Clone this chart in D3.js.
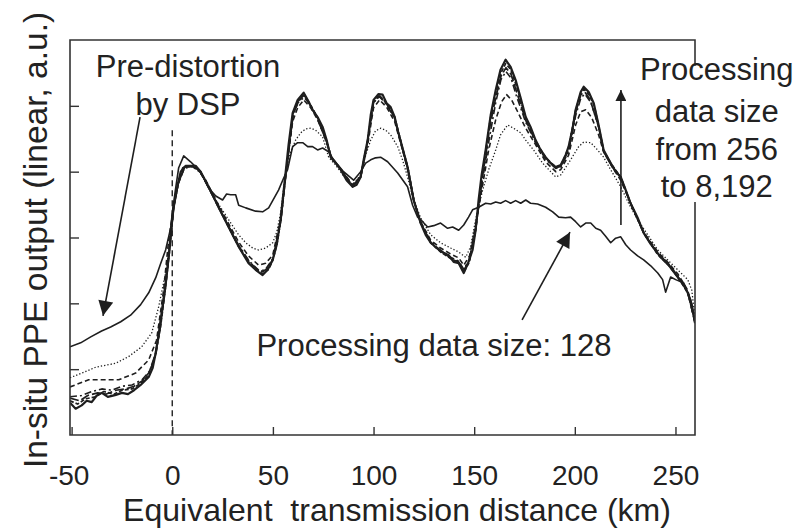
<!DOCTYPE html>
<html>
<head>
<meta charset="utf-8">
<script src="https://cdn.jsdelivr.net/npm/d3@7"></script>
<style>
body { margin: 0; background: #fff; }
text { font-family: "Liberation Sans", Arial, sans-serif; fill: #222; }
</style>
</head>
<body>
<div id="chart"></div>
<script>
// distance (km), in-situ PPE output (a.u.)
var size_128 = [[-50.8,1.34],[-45.5,1.40],[-40.5,1.49],[-35.1,1.58],[-30.6,1.64],[-25.6,1.72],[-20.7,1.82],[-15.7,1.98],[-11.7,2.16],[-8.2,2.39],[-5.8,2.60],[-3.3,2.81],[-0.8,3.14],[0.2,3.42],[1.7,3.75],[3.2,4.06],[5.7,4.24],[9.1,4.15],[14.1,4.00],[18.1,3.75],[21.6,3.63],[25,3.57],[27,3.66],[29,3.65],[31.5,3.65],[33,3.49],[36.5,3.45],[41.4,3.40],[44.9,3.39],[47.9,3.45],[52.8,3.72],[55.3,3.90],[57.3,4.03],[59.8,4.38],[62.3,4.44],[64.8,4.44],[67.3,4.38],[69.7,4.38],[72.2,4.33],[74.7,4.36],[77.7,4.30],[80.2,4.18],[85.1,4.00],[90.1,3.87],[93.6,4.00],[96.1,4.13],[98.6,4.18],[101,4.21],[103.5,4.22],[107,4.15],[112,3.98],[116.9,3.77],[119.4,3.49],[121.9,3.31],[124.4,3.24],[126.9,3.16],[129.9,3.18],[133.3,3.22],[136.8,3.14],[139.3,3.16],[142.3,3.11],[144.8,3.19],[147.2,3.31],[149.2,3.42],[152.2,3.46],[155.7,3.52],[158.2,3.51],[160.7,3.54],[163.1,3.52],[165.6,3.56],[168.1,3.52],[170.6,3.56],[173.1,3.52],[175.6,3.57],[178,3.52],[181.5,3.51],[185.5,3.46],[189,3.39],[192,3.31],[195.4,3.30],[197.9,3.31],[200.4,3.24],[202.9,3.16],[205.4,3.22],[207.9,3.22],[210.4,3.14],[212.8,3.11],[215.3,3.02],[217.8,2.92],[220.3,2.99],[222.8,3.01],[225.3,2.89],[227.7,2.81],[231.2,2.72],[234.2,2.66],[237.7,2.57],[241.2,2.46],[243.6,2.36],[245.1,2.17],[247.6,2.40],[250.1,2.36],[254.1,2.31],[257.6,2.05],[259.7,1.70]];

var size_256 = [[-50.8,0.87],[-45,0.94],[-38,1.03],[-28.1,1.09],[-21.7,1.19],[-15.2,1.34],[-10.2,1.55],[-6.8,1.94],[-3.3,2.46],[-0.8,2.96],[0.7,3.46],[2.7,3.80],[5.2,4.03],[8.1,4.09],[11.6,4.09],[16.6,3.87],[21.6,3.57],[28,3.27],[33,3.04],[36.5,2.92],[40,2.84],[42.9,2.81],[46.4,2.84],[49.9,2.92],[51.9,3.08],[53.8,3.37],[56.3,3.98],[58.8,4.30],[61.3,4.48],[63.8,4.59],[66.3,4.65],[68.8,4.66],[71.2,4.63],[74.7,4.53],[77.7,4.22],[81.2,4.10],[84.7,3.95],[89.6,3.80],[93.6,3.95],[96.1,4.25],[98.6,4.48],[101,4.62],[103.5,4.66],[106,4.63],[108.5,4.56],[112,4.38],[114.4,4.18],[116.9,3.92],[119.9,3.57],[123.4,3.30],[128.4,3.04],[133.3,2.92],[138.3,2.84],[142.3,2.78],[145.8,2.70],[148.2,2.86],[150.7,3.27],[154.2,3.72],[157.2,4.03],[160.7,4.33],[163.1,4.56],[166.6,4.71],[169.6,4.66],[173.1,4.59],[175.6,4.48],[179.5,4.33],[184,4.13],[188,4.00],[190.5,3.92],[193,3.95],[195.4,4.06],[197.9,4.18],[201.9,4.38],[204.4,4.45],[207.9,4.44],[211.3,4.33],[214.3,4.22],[217.8,4.03],[222.8,3.77],[226.7,3.52],[231.2,3.27],[236.2,3.04],[241.2,2.81],[246.1,2.66],[251.1,2.51],[256.1,2.36],[258.1,2.20],[259.7,1.79]];

var size_512 = [[-50.8,0.73],[-41.5,0.84],[-26.6,0.84],[-18.2,0.94],[-11.7,1.14],[-7.8,1.44],[-4.3,2.20],[-1.8,2.96],[0.7,3.46],[2.7,3.80],[5.2,4.06],[8.1,4.09],[11.6,4.07],[16.6,3.87],[23,3.49],[28,3.21],[33,2.93],[37.9,2.72],[42.9,2.58],[46.4,2.61],[49.9,2.73],[53.8,3.27],[56.3,3.95],[59.8,4.76],[62.3,4.97],[65.3,5.09],[68.8,4.97],[72.2,4.79],[76.7,4.45],[79.2,4.21],[84.7,4.00],[89.6,3.80],[93.6,3.93],[97.1,4.41],[100,4.97],[103,5.09],[106.5,4.98],[110.5,4.76],[114.4,4.33],[116.9,4.03],[119.9,3.57],[123.4,3.24],[128.4,2.96],[133.3,2.84],[138.3,2.75],[142.3,2.69],[144.8,2.58],[147.7,2.72],[150.7,3.19],[154.2,3.80],[157.2,4.33],[160.7,4.79],[163.6,5.06],[166.1,5.17],[168.6,5.09],[171.6,4.91],[175.6,4.66],[180.5,4.41],[185.5,4.15],[190.5,4.00],[193,4.03],[196.9,4.25],[200.4,4.71],[202.9,4.91],[205.4,4.94],[208.4,4.82],[211.8,4.56],[214.3,4.30],[218.8,4.06],[222.8,3.87],[227.7,3.52],[234.2,3.08],[241.2,2.78],[246.6,2.61],[251.1,2.45],[256.1,2.20],[259.7,1.72]];

var size_1024 = [[-50.8,0.58],[-45,0.60],[-40,0.66],[-35,0.70],[-30,0.68],[-25,0.74],[-20,0.76],[-15,0.84],[-11,0.98],[-8,1.25],[-5,1.90],[-2,2.70],[0.7,3.46],[3,3.82],[6,4.05],[10,4.08],[14,4.00],[18,3.76],[23,3.47],[28,3.17],[33,2.88],[38,2.65],[43,2.50],[46,2.50],[50,2.68],[54,3.27],[56.5,3.98],[60,4.85],[62.5,5.05],[65.5,5.13],[68.5,5.02],[72,4.82],[76.5,4.47],[79,4.21],[84,4.02],[89.6,3.78],[93.6,3.92],[97,4.45],[100,5.05],[103,5.14],[106.5,5.02],[110.5,4.80],[114.4,4.34],[117,4.05],[120,3.57],[123.4,3.23],[128.4,2.94],[133.3,2.80],[138.3,2.70],[142.3,2.64],[144.8,2.52],[147.5,2.66],[150.7,3.14],[154,3.85],[157.5,4.50],[160.7,5.05],[163.3,5.40],[165.8,5.52],[168.3,5.42],[171,5.15],[175.6,4.75],[180.5,4.44],[185.5,4.19],[190.5,4.05],[193,4.07],[196.9,4.30],[200.4,4.85],[203,5.12],[205,5.18],[208,5.05],[211.8,4.68],[214.3,4.31],[218,4.10],[222.8,3.90],[227.7,3.52],[234.2,3.07],[241.2,2.76],[246.6,2.60],[251.1,2.42],[256.1,2.18],[259.7,1.70]];

var size_2048 = [[-50.8,0.56],[-46,0.52],[-42,0.60],[-37,0.64],[-33,0.62],[-28,0.68],[-23,0.70],[-19,0.74],[-15,0.82],[-11.5,0.95],[-8.5,1.22],[-6,1.62],[-3.5,2.22],[-1.5,2.76],[0.7,3.46],[3,3.82],[6,4.06],[10,4.08],[14,3.99],[18,3.76],[23,3.46],[28,3.16],[33,2.87],[38,2.64],[42,2.52],[45,2.48],[48,2.55],[50,2.68],[54,3.27],[56.5,3.97],[60,4.86],[62.5,5.06],[65.3,5.16],[68,5.04],[72,4.82],[76.5,4.47],[79,4.22],[84,4.02],[89.6,3.78],[93.6,3.92],[97,4.46],[100,5.05],[102.8,5.15],[106.5,5.03],[110.5,4.82],[114.4,4.35],[117,4.06],[120,3.57],[123.4,3.22],[128.4,2.93],[133.3,2.79],[138.3,2.69],[142.3,2.63],[144.8,2.50],[147.5,2.64],[150.7,3.12],[154,3.90],[158,4.72],[160.7,5.12],[163.3,5.45],[165.8,5.58],[168.3,5.48],[171,5.22],[175.6,4.78],[180.5,4.46],[185.5,4.20],[190.5,4.06],[193,4.08],[196.9,4.33],[200.4,4.90],[203,5.17],[205,5.21],[207.5,5.10],[211.8,4.69],[214.3,4.31],[218,4.11],[222.8,3.91],[227.7,3.52],[234.2,3.07],[241.2,2.75],[246.6,2.59],[251.1,2.41],[256.1,2.17],[259.7,1.71]];

var size_4096 = [[-50.8,0.52],[-47,0.47],[-43,0.55],[-38,0.58],[-34,0.66],[-29,0.62],[-25,0.68],[-20,0.70],[-15,0.80],[-11.5,0.93],[-8.5,1.20],[-6,1.60],[-3.5,2.20],[-1.5,2.75],[0.7,3.46],[3,3.82],[6,4.07],[11,4.09],[14,4.00],[18,3.77],[23,3.46],[28,3.16],[33,2.86],[38,2.62],[42,2.50],[45,2.45],[48,2.52],[50,2.66],[52,2.90],[54,3.27],[56.5,3.98],[60,4.88],[62.5,5.08],[65.3,5.18],[68,5.05],[72,4.83],[76.5,4.48],[79,4.22],[84,4.03],[89.6,3.77],[93.6,3.92],[97,4.47],[100,5.07],[102.5,5.17],[106.5,5.04],[110.5,4.83],[114.4,4.36],[117,4.07],[120,3.57],[123.4,3.22],[128.4,2.92],[133.3,2.78],[138.3,2.68],[142.3,2.62],[144.8,2.47],[147.5,2.62],[150.7,3.11],[154,3.93],[158,4.80],[160.7,5.20],[163.3,5.50],[165.6,5.64],[168.2,5.55],[171,5.30],[175.6,4.82],[180.5,4.47],[185.5,4.21],[190.5,4.07],[193,4.09],[196.9,4.36],[200.4,4.93],[203,5.20],[204.6,5.25],[207,5.17],[209.5,5.02],[211.8,4.70],[214.3,4.32],[218,4.12],[222.8,3.92],[227.7,3.52],[234.2,3.07],[241.2,2.74],[246.6,2.58],[251.1,2.40],[256.1,2.16],[259.7,1.72]];

var size_8192 = [[-50.8,0.49],[-48,0.40],[-45,0.45],[-42.5,0.52],[-40,0.50],[-37.5,0.60],[-35,0.64],[-32,0.58],[-28,0.61],[-25,0.64],[-22,0.62],[-19,0.68],[-15.7,0.76],[-11.7,0.88],[-9.7,1.02],[-8.2,1.25],[-6.8,1.52],[-5.3,1.85],[-3.3,2.28],[-1.8,2.70],[-0.3,3.19],[0.7,3.46],[2.7,3.80],[4.2,4.00],[6.7,4.09],[9.1,4.09],[11.6,4.09],[14.1,4.00],[18.1,3.77],[23,3.46],[28,3.16],[33,2.86],[37.9,2.61],[41.4,2.51],[44.9,2.43],[47.4,2.51],[49.9,2.66],[51.9,2.89],[53.8,3.27],[56.3,3.98],[57.8,4.41],[59.8,4.89],[62.3,5.09],[65.3,5.20],[67.8,5.06],[69.7,4.94],[72.2,4.83],[74.7,4.68],[76.7,4.48],[78.7,4.22],[81.2,4.13],[83.7,4.03],[86.6,3.87],[89.6,3.77],[91.6,3.80],[93.6,3.92],[95.1,4.18],[97.1,4.48],[98.6,4.86],[100,5.09],[102.5,5.18],[104.5,5.17],[106.5,5.04],[108.5,4.98],[110.5,4.83],[112,4.63],[114.4,4.36],[116.9,4.07],[119.9,3.57],[123.4,3.22],[125.9,3.04],[128.4,2.92],[131.4,2.84],[134.8,2.77],[137.3,2.73],[139.8,2.63],[142.3,2.61],[144.8,2.46],[147.2,2.63],[149.2,2.81],[150.7,3.11],[152.2,3.57],[153.7,3.95],[155.7,4.33],[158.2,4.86],[160.7,5.24],[163.1,5.55],[165.6,5.70],[168.1,5.59],[170.6,5.39],[173.1,5.12],[175.6,4.83],[178,4.68],[180.5,4.48],[183,4.33],[185.5,4.22],[188,4.13],[190.5,4.07],[193,4.10],[195.4,4.25],[196.9,4.38],[198.9,4.66],[200.4,4.94],[202.9,5.21],[204.4,5.29],[206.9,5.21],[209.4,5.04],[211.8,4.71],[214.3,4.33],[217.8,4.13],[220.3,4.00],[222.8,3.92],[225.3,3.72],[227.7,3.52],[231.2,3.30],[234.2,3.07],[237.7,2.90],[242.7,2.70],[246.6,2.58],[251.1,2.40],[254.1,2.28],[256.1,2.16],[258.1,1.98],[259.7,1.70]];

var x_ticks = [-50, 0, 50, 100, 150, 200, 250];
var y_ticks = [1, 2, 3, 4, 5];

var width  = 802;
var height = 530;
var margin = {top: 40, right: 107, bottom: 95, left: 70};
var plot_w = width - margin.left - margin.right;
var plot_h = height - margin.top - margin.bottom;

var svg = d3.select("#chart")
    .append("svg")
    .attr("width", width)
    .attr("height", height);

var x = d3.scaleLinear().domain([-50.8, 259.7]).range([0, plot_w]);
var y = d3.scaleLinear().domain([0, 6]).range([plot_h, 0]);

var g = svg.append("g")
    .attr("transform", "translate(" + margin.left + "," + margin.top + ")");

g.append("clipPath")
    .attr("id", "plot_clip")
    .append("rect")
    .attr("width", plot_w)
    .attr("height", plot_h);

// series, thin to thick
var series = [
    {data: size_128,  dash: null,      w: 1.6},
    {data: size_256,  dash: "1.3,2",   w: 1.3},
    {data: size_512,  dash: "5,3",     w: 1.6},
    {data: size_1024, dash: "7,3,2,3", w: 1.6},
    {data: size_2048, dash: "9,3",     w: 1.7},
    {data: size_4096, dash: "4,2",     w: 1.7},
    {data: size_8192, dash: null,      w: 2.2}
];

var line = d3.line()
    .x(d => x(d[0]))
    .y(d => y(d[1]));

// dashed marker at 0 km
g.append("line")
    .attr("x1", x(0)).attr("x2", x(0))
    .attr("y1", y(4.63)).attr("y2", plot_h)
    .attr("stroke", "#222")
    .attr("stroke-width", 1.4)
    .attr("stroke-dasharray", "6,4");

g.append("g")
    .attr("clip-path", "url(#plot_clip)")
    .selectAll("path")
    .data(series)
    .enter()
    .append("path")
    .attr("d", d => line(d.data))
    .attr("fill", "none")
    .attr("stroke", "#1e1e1e")
    .attr("stroke-width", d => d.w)
    .attr("stroke-dasharray", d => d.dash)
    .attr("stroke-linejoin", "round");

// axes, ticks pointing inside
var x_axis = g.append("g")
    .attr("transform", "translate(0," + plot_h + ")")
    .call(d3.axisBottom(x)
	  .tickValues(x_ticks)
	  .tickFormat(d => String(d))   // plain hyphen, as in the figure
	  .tickSizeInner(-8)
	  .tickSizeOuter(0));
x_axis.select(".domain").remove();
x_axis.selectAll("line").attr("stroke", "#333").attr("stroke-width", 1.4);
x_axis.selectAll("text")
    .attr("y", 50)
    .attr("dy", null)
    .attr("dx", d => d < 0 ? "-3" : null)
    .style("font-size", "28px")
    .style("font-family", "'Liberation Sans', Arial, sans-serif")
    .attr("fill", "#222");

var y_axis = g.append("g")
    .call(d3.axisLeft(y).tickValues(y_ticks).tickSizeInner(-9).tickSizeOuter(0).tickFormat(""));
y_axis.select(".domain").remove();
y_axis.selectAll("line").attr("stroke", "#333").attr("stroke-width", 1.4);

// frame, right side broken by the label
var frame_gap = [y(5.61), y(3.54)];
g.append("path")
    .attr("d", "M" + plot_w + "," + frame_gap[0] + "V0H0V" + plot_h + "H" + plot_w + "V" + frame_gap[1])
    .attr("fill", "none")
    .attr("stroke", "#333")
    .attr("stroke-width", 1.6);

// axis titles
svg.append("text")
    .attr("x", 397)
    .attr("y", 521)
    .attr("text-anchor", "middle")
    .style("font-size", "32px")
    .text("Equivalent\u00a0 transmission distance (km)");

svg.append("text")
    .attr("transform", "translate(47,240) rotate(-90)")
    .attr("text-anchor", "middle")
    .style("font-size", "33.5px")
    .text("In-situ PPE output (linear, a.u.)");

// annotations
var defs = svg.append("defs");
defs.append("marker")
    .attr("id", "head_big")
    .attr("viewBox", "0 0 10 10")
    .attr("refX", 10).attr("refY", 5)
    .attr("markerWidth", 19).attr("markerHeight", 15)
    .attr("markerUnits", "userSpaceOnUse")
    .attr("orient", "auto")
    .append("path").attr("d", "M0,0L10,5L0,10z").attr("fill", "#1e1e1e");
defs.append("marker")
    .attr("id", "head_small")
    .attr("viewBox", "0 0 10 10")
    .attr("refX", 10).attr("refY", 5)
    .attr("markerWidth", 15).attr("markerHeight", 11)
    .attr("markerUnits", "userSpaceOnUse")
    .attr("orient", "auto")
    .append("path").attr("d", "M0,0L10,5L0,10z").attr("fill", "#1e1e1e");

var arrows = [
    {from: [-16.0, 4.83], to: [-34.4, 1.81], head: "head_big"},
    {from: [173.8, 1.75], to: [197.6, 3.08], head: "head_big"},
    {from: [222.9, 3.19], to: [222.9, 5.24], head: "head_small"}
];

g.selectAll(".arrow")
    .data(arrows)
    .enter()
    .append("line")
    .attr("class", "arrow")
    .attr("x1", d => x(d.from[0])).attr("y1", d => y(d.from[1]))
    .attr("x2", d => x(d.to[0])).attr("y2", d => y(d.to[1]))
    .attr("stroke", "#1e1e1e")
    .attr("stroke-width", 1.6)
    .attr("marker-end", d => "url(#" + d.head + ")");

var notes = [
    {text: "Pre-distortion", at: [7.8, 5.44]},
    {text: "by DSP", at: [7.8, 4.86]},
    {text: "Processing data size: 128", at: [130.0, 1.20]},
    {text: "Processing", at: [270.5, 5.39]},
    {text: "data size", at: [270.5, 4.76]},
    {text: "from 256", at: [270.5, 4.18]},
    {text: "to 8,192", at: [270.5, 3.62]}
];

g.selectAll(".note")
    .data(notes)
    .enter()
    .append("text")
    .attr("class", "note")
    .attr("x", d => x(d.at[0]))
    .attr("y", d => y(d.at[1]))
    .attr("text-anchor", "middle")
    .style("font-size", "31px")
    .text(d => d.text);
</script>
</body>
</html>
